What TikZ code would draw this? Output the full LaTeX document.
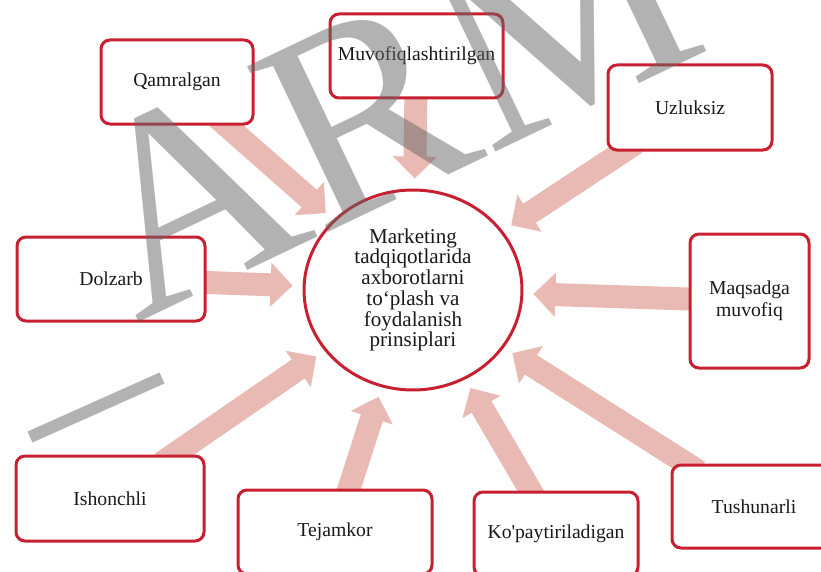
\documentclass[tikz,border=0pt]{standalone}
\usepackage{fontspec}
\setmainfont{Liberation Serif}
\usetikzlibrary{arrows.meta}
\usetikzlibrary{shapes.geometric}
\usetikzlibrary{backgrounds}

\definecolor{framered}{RGB}{200,32,48}
\definecolor{flowpink}{RGB}{233,186,179}

\tikzset{
    princbox/.style={draw=framered, line width=0.06cm, rounded corners=0.18cm,
        fill=white, minimum height=1.68cm, inner sep=0pt, align=center,
        text=black!90, font=\fontsize{11.2}{12.4}\selectfont},
    hub/.style={ellipse, draw=framered, line width=0.06cm, fill=white,
        minimum width=4.36cm, minimum height=4cm, inner sep=0pt, align=center,
        text=black!90, font=\fontsize{12}{11.8}\selectfont},
    flowarrow/.style={draw=flowpink, line width=0.46cm,
        -{Triangle[width=0.86cm,length=0.44cm]},
        shorten >=0.2cm, shorten <=-0.3cm},
    stamp/.style={black!60, opacity=0.5}
}

\begin{document}
\begin{tikzpicture}
    \useasboundingbox (0, 0) rectangle (16.42, 11.42);

    % centre
    \node[hub] (pr) at (8.26, 5.62) {Marketing\\tadqiqotlarida\\axborotlarni\\to‘plash va\\foydalanish\\prinsiplari};

    % principles round it
    \node[princbox, minimum width=3.04cm] (qam) at (3.54, 9.78) {Qamralgan};
    \node[princbox, minimum width=3.46cm] (muv) at (8.33, 10.30) {Muvofiqlashtirilgan};
    \node[princbox, minimum width=3.28cm, minimum height=1.70cm] (uzl) at (13.80, 9.27) {Uzluksiz};
    \node[princbox, minimum width=3.76cm] (dol) at (2.22, 5.84) {Dolzarb};
    \node[princbox, minimum width=2.38cm, minimum height=2.68cm] (maq) at (14.99, 5.40) {Maqsadga\\muvofiq};
    \node[princbox, minimum width=3.76cm, minimum height=1.70cm] (ish) at (2.20, 1.45) {Ishonchli};
    \node[princbox, minimum width=3.88cm] (tej) at (6.70, 0.78) {Tejamkor};
    \node[princbox, minimum width=3.28cm] (kop) at (11.12, 0.74) {Ko\textquotesingle paytiriladigan};
    \node[princbox, minimum width=3.28cm, minimum height=1.66cm] (tus) at (15.08, 1.29) {Tushunarli};

    % arrows into the centre
    \begin{pgfonlayer}{background}
        \foreach \src in {qam, muv, uzl, dol, maq, ish, tej, kop, tus}
            \draw[flowarrow] (\src) -- (pr);
    \end{pgfonlayer}

    % stamp on top
    \node[stamp, rotate=25.5, anchor=base west, inner sep=0pt,
        font=\fontsize{160}{160}\selectfont] (arm) at (2.72, 4.94) {ARM};
    \coordinate (d1) at (0.60, 2.68);
    \coordinate (d2) at (3.24, 3.86);
    \draw[stamp, line width=0.24cm] (d1) -- (d2);

\end{tikzpicture}
\end{document}
